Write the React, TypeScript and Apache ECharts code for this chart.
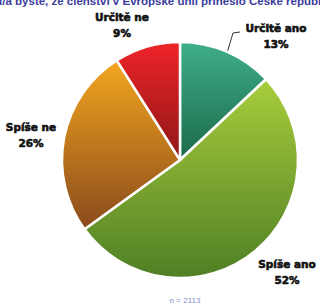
import React, { useEffect, useRef } from "react";
import * as echarts from "echarts";

const categories = ["Určitě ano", "Spíše ano", "Spíše ne", "Určitě ne"];
const values = [13, 52, 26, 9];
const titleText = "Řekl/a byste, že členství v Evropské unii přineslo České republice více";
const noteText = "n = 2113";

const gradients: [string, string][] = [
  ["#3fae89", "#1b6a4a"],
  ["#a8cd3c", "#4f7f25"],
  ["#f3a61f", "#8a4a1b"],
  ["#ef2429", "#8e1717"],
];

const labelPos: { x: number; y: number }[] = [
  { x: 276, y: 36 },
  { x: 287, y: 272 },
  { x: 31, y: 135 },
  { x: 122, y: 25 },
];

export default function App() {
  const ref = useRef<HTMLDivElement>(null);
  useEffect(() => {
    if (!ref.current) return;
    const chart = echarts.init(ref.current, undefined, { renderer: "svg" });
    chart.setOption({
      animation: false,
      backgroundColor: "#ffffff",
      graphic: [
        {
          type: "text",
          x: -22,
          y: 7,
          style: {
            text: titleText,
            fill: "#3a3c9c",
            font: "bold 11.5px 'Liberation Sans', Arial, sans-serif",
            textVerticalAlign: "bottom",
          },
        },
        {
          type: "text",
          x: 185,
          y: 300,
          style: {
            text: noteText,
            fill: "#7f90c4",
            font: "8px 'Liberation Sans', Arial, sans-serif",
            textAlign: "center",
            textVerticalAlign: "middle",
          },
        },
      ],
      series: [
        {
          type: "pie",
          center: [180, 160],
          radius: [0, 118],
          startAngle: 90,
          clockwise: true,
          avoidLabelOverlap: false,
          itemStyle: { borderColor: "#ffffff", borderWidth: 2.5 },
          label: {
            show: true,
            position: "outside",
            formatter: (p: any) => `${p.name}\n${p.value}%`,
            color: "#111111",
            fontFamily: "'DejaVu Sans', sans-serif",
            fontWeight: "bold",
            fontSize: 10.5,
            lineHeight: 16,
            align: "center",
            textBorderColor: "#111111",
            textBorderWidth: 0.6,
          },
          labelLine: { show: false },
          labelLayout: (params: any) => {
            const pos = labelPos[params.dataIndex];
            const res: any = {
              x: pos.x,
              y: pos.y,
              align: "center",
              verticalAlign: "middle",
            };
            if (params.dataIndex === 0) {
              res.labelLinePoints = [
                [227, 53],
                [233, 33],
                [240, 32],
              ];
            }
            return res;
          },
          data: categories.map((name, i) => ({
            name,
            value: values[i],
            itemStyle: {
              color: new echarts.graphic.LinearGradient(0, 0, 0, 1, [
                { offset: 0, color: gradients[i][0] },
                { offset: 1, color: gradients[i][1] },
              ]),
            },
            labelLine:
              i === 0
                ? { show: true, lineStyle: { color: "#333333", width: 1 } }
                : { show: false },
          })),
        },
      ],
    });
    return () => chart.dispose();
  }, []);
  return (
    <div
      ref={ref}
      style={{ position: "fixed", left: 0, top: 0, width: 320, height: 308 }}
    />
  );
}
